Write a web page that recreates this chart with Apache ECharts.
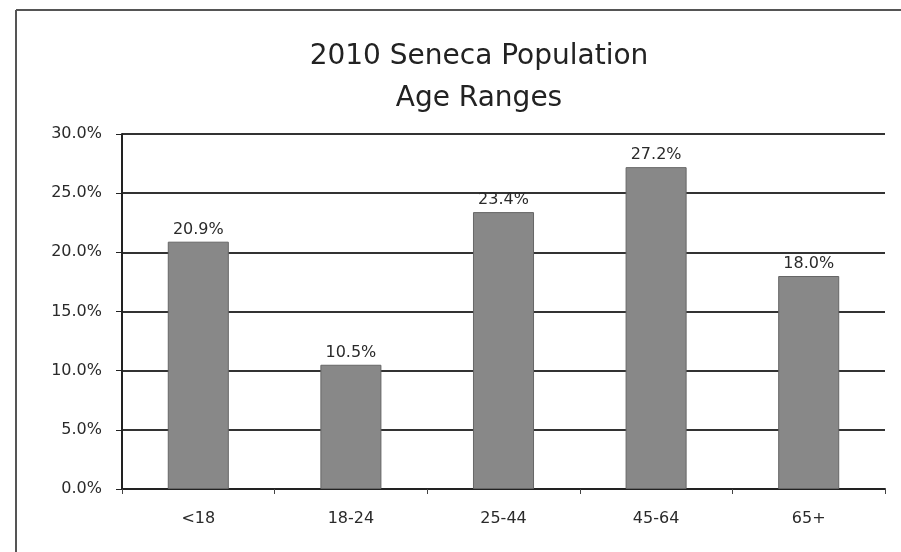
<!DOCTYPE html>
<html>
<head>
<meta charset="utf-8">
<script src="https://cdn.jsdelivr.net/npm/echarts@6/dist/echarts.min.js"></script>
<style>
html,body{margin:0;padding:0;background:#fff;}
#chart{width:901px;height:552px;}
</style>
</head>
<body>
<div id="chart"></div>
<script>
const titleText = '2010 Seneca Population\nAge Ranges';
const categories = ['<18', '18-24', '25-44', '45-64', '65+'];
const values = [20.9, 10.5, 23.4, 27.2, 18.0];
const yMin = 0, yMax = 30, yStep = 5;

const chart = echarts.init(document.getElementById('chart'), null, {renderer: 'canvas'});
const font = '"DejaVu Sans", sans-serif';
chart.setOption({
  backgroundColor: '#ffffff',
  animation: false,
  title: {
    text: titleText,
    left: 474, top: 31, textAlign: 'center',
    textStyle: {fontFamily: font, fontSize: 28, fontWeight: 'normal', color: '#222', lineHeight: 42}
  },
  graphic: [
    {type: 'line', shape: {x1: 16, y1: 10, x2: 901, y2: 10}, style: {stroke: '#555', lineWidth: 2}},
    {type: 'line', shape: {x1: 16, y1: 10, x2: 16, y2: 552}, style: {stroke: '#555', lineWidth: 2}}
  ],
  grid: {left: 122, right: 16, top: 134, bottom: 63, containLabel: false},
  xAxis: {
    type: 'category', data: categories,
    axisLine: {lineStyle: {color: '#222', width: 2}},
    axisTick: {show: true, length: 5, lineStyle: {color: '#444'}},
    axisLabel: {fontFamily: font, fontSize: 16, color: '#2a2a2a', margin: 22}
  },
  yAxis: {
    type: 'value', min: yMin, max: yMax, interval: yStep,
    axisLine: {show: true, lineStyle: {color: '#222', width: 2}},
    axisTick: {show: true, length: 6, lineStyle: {color: '#222'}},
    axisLabel: {fontFamily: font, fontSize: 16, color: '#2a2a2a', margin: 20,
      formatter: v => v.toFixed(1) + '%'},
    splitLine: {show: true, lineStyle: {color: '#333', width: 2}}
  },
  series: [{
    type: 'bar', data: values, barWidth: '40%',
    itemStyle: {color: '#888888', borderColor: '#666', borderWidth: 1},
    label: {show: true, position: 'top', distance: 4, fontFamily: font, fontSize: 16, color: '#2a2a2a',
      formatter: p => p.value.toFixed(1) + '%'}
  }]
});
</script>
</body>
</html>
